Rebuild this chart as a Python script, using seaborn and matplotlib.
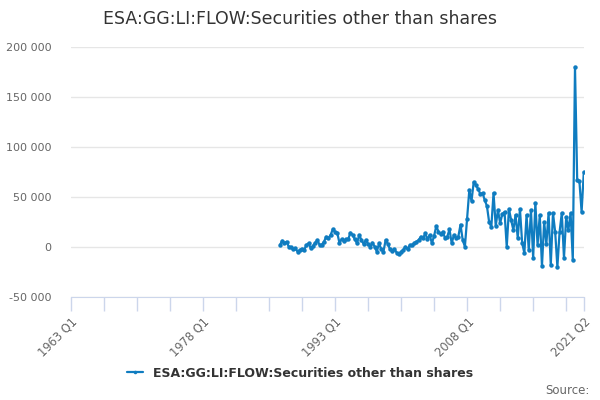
import numpy as np
import pandas as pd
import matplotlib
matplotlib.use("Agg")
import matplotlib.pyplot as plt
import matplotlib.ticker as mticker
import seaborn as sns

# quarterly flows, thousands, 1986 Q4 .. 2021 Q2
start_year, start_quarter = 1986, 4
vals_1986_1997 = [2.0, 6.3, 3.7, 5.3, 0.3, -0.3, -2.3, -1.3, -4.7, -3.0, -1.7, -3.0, 2.0, 3.7, -1.3,
                  1.0, 4.3, 7.0, 2.0, 2.3, 5.3, 10.3, 8.7, 12.0, 17.7, 15.3, 14.3, 4.3, 7.7, 6.3,
                  7.7, 7.7, 14.3, 12.0, 7.7, 3.7, 12.0, 7.0, 3.0, 7.0, 3.0, 0.3, 4.3, 0.3, -4.7]
vals_1998_2007 = [3.7, -2.3, -4.7, 7.0, 3.0, -2.3, -3.7, -2.3, -5.7, -7.0, -4.7, -3.0, 0.3, -2.3,
                  2.0, 2.0, 3.7, 5.3, 7.0, 10.3, 8.7, 13.7, 7.7, 12.0, 3.7, 11.0, 21.0, 15.3, 13.0,
                  15.3, 8.7, 10.3, 17.7, 3.7, 12.0, 8.7, 10.3, 22.3, 7.0, 0.3]
vals_2008_2012 = [28, 57, 46, 65, 62, 58, 53, 54, 47, 41, 25, 20, 54, 21, 37, 24, 33, 35, 0, 38]
vals_2013_2021 = [27, 17, 32, 9, 38, 4, -6, 32, -3, 37, -11, 44, 2, 32, -19, 25, 3, 34, -18, 34,
                  15, -20, 15, 34, -11, 30, 17, 34, -13, 180, 67, 66, 35, 75]

series_name = "ESA:GG:LI:FLOW:Securities other than shares"
first_year = 1963
tick_labels = {0: "1963 Q1", 60: "1978 Q1", 120: "1993 Q1", 180: "2008 Q1", 233: "2021 Q2"}

values = np.array(vals_1986_1997 + vals_1998_2007 + vals_2008_2012 + vals_2013_2021) * 1000
q0 = (start_year - first_year) * 4 + (start_quarter - 1)
df = pd.DataFrame({"q": np.arange(q0, q0 + len(values)), "value": values})

sns.set_style("white")
plt.rcParams["font.family"] = ["DejaVu Sans"]

fig = plt.figure(figsize=(6, 4), dpi=100)
ax = fig.add_axes([0.118, 0.2575, 0.855, 0.625])

color = "#0f7cc0"
sns.lineplot(data=df, x="q", y="value", ax=ax, color=color, linewidth=1.6,
             marker="o", markersize=3.2, markeredgewidth=0, label=series_name, legend=False)

ax.set_xlim(0, 233)
ax.set_ylim(-50000, 200000)
ax.yaxis.set_major_locator(mticker.MultipleLocator(50000))
ax.yaxis.set_major_formatter(mticker.FuncFormatter(lambda v, p: f"{v:,.0f}".replace(",", " ")))
ax.grid(axis="y", color="#e6e6e6", linewidth=1)
ax.set_axisbelow(True)

# tick styling first, tick_params with pad/length rebuilds the tick labels
ax.tick_params(axis="x", bottom=True, direction="out", length=10, color="#ccd6eb", width=1, pad=3)
ax.tick_params(axis="y", left=False, length=0, labelcolor="#666666", labelsize=8, pad=14)

ticks = list(range(0, 226, 15)) + [233]
ax.set_xticks(ticks)
ax.set_xticklabels([tick_labels.get(t, "") for t in ticks], rotation=45, ha="right",
                   rotation_mode="anchor", color="#666666", fontsize=8.3)

for s in ["top", "right", "left"]:
    ax.spines[s].set_visible(False)
ax.spines["bottom"].set_color("#ccd6eb")
ax.set_xlabel("")
ax.set_ylabel("")

fig.suptitle(series_name, x=0.5, y=0.975, fontsize=12.5, color="#333333")

handles, labels = ax.get_legend_handles_labels()
leg = fig.legend(handles, labels, loc="center", bbox_to_anchor=(0.5, 0.067), frameon=False,
                 prop={"weight": "bold", "size": 9}, handlelength=1.3, markerscale=0.8)
for t in leg.get_texts():
    t.set_color("#333333")

fig.text(0.982, 0.025, "Source:", ha="right", va="center", fontsize=8.5, color="#666666")

fig.savefig("out.png", dpi=100)
